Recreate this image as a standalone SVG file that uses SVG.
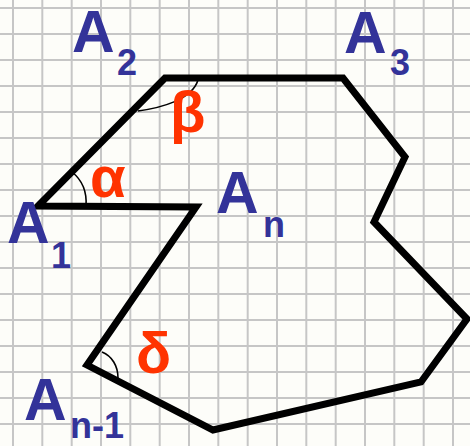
<svg xmlns="http://www.w3.org/2000/svg" width="470" height="446" viewBox="0 0 470 446">
<style>
.grid line{stroke:#c6c6c6;stroke-width:2}
.poly{fill:none;stroke:#000;stroke-width:7;stroke-linejoin:miter;stroke-miterlimit:4}
.arc{fill:none;stroke:#000;stroke-width:1.6}
.lbl{font-family:"Liberation Sans",Arial,sans-serif;font-weight:bold;fill:#333399}
.big{font-size:59px}
.sub{font-size:36px}
.ang{font-family:"Liberation Sans",Arial,sans-serif;font-weight:bold;fill:#ff3300;font-size:58px}
</style>
<rect width="470" height="446" fill="#fdfdf9"/>
<g class="grid">
<line x1="13" y1="0" x2="13" y2="446"/><line x1="42.3" y1="0" x2="42.3" y2="446"/><line x1="71.7" y1="0" x2="71.7" y2="446"/><line x1="101" y1="0" x2="101" y2="446"/><line x1="130.3" y1="0" x2="130.3" y2="446"/><line x1="159.7" y1="0" x2="159.7" y2="446"/><line x1="189" y1="0" x2="189" y2="446"/><line x1="218.3" y1="0" x2="218.3" y2="446"/><line x1="247.7" y1="0" x2="247.7" y2="446"/><line x1="277" y1="0" x2="277" y2="446"/><line x1="306.3" y1="0" x2="306.3" y2="446"/><line x1="335.7" y1="0" x2="335.7" y2="446"/><line x1="365" y1="0" x2="365" y2="446"/><line x1="394.3" y1="0" x2="394.3" y2="446"/><line x1="423.7" y1="0" x2="423.7" y2="446"/><line x1="453" y1="0" x2="453" y2="446"/>
<line x1="0" y1="8" x2="470" y2="8"/><line x1="0" y1="34" x2="470" y2="34"/><line x1="0" y1="60" x2="470" y2="60"/><line x1="0" y1="86" x2="470" y2="86"/><line x1="0" y1="112" x2="470" y2="112"/><line x1="0" y1="138" x2="470" y2="138"/><line x1="0" y1="164" x2="470" y2="164"/><line x1="0" y1="190" x2="470" y2="190"/><line x1="0" y1="216" x2="470" y2="216"/><line x1="0" y1="242" x2="470" y2="242"/><line x1="0" y1="268" x2="470" y2="268"/><line x1="0" y1="294" x2="470" y2="294"/><line x1="0" y1="320" x2="470" y2="320"/><line x1="0" y1="346" x2="470" y2="346"/><line x1="0" y1="372" x2="470" y2="372"/><line x1="0" y1="398" x2="470" y2="398"/><line x1="0" y1="424" x2="470" y2="424"/>
</g>
<g id="connectors">
<polygon class="poly" points="38,206 165,78 343,78 405,157 374,222 467,319 421,382 213,430 87,365 196,207"/>
<path class="arc" d="M72,172 C82,180 87,192 86,206"/>
<path class="arc" d="M138,111 C160,108 192,100 198,80"/>
<path class="arc" d="M102,352 C112,356 118,366 118,378"/>
</g>
<g id="A1"><text class="lbl big" x="7" y="243">A</text><text class="lbl sub" x="51" y="268">1</text></g>
<g id="A2"><text class="lbl big" x="72" y="52">A</text><text class="lbl sub" x="117" y="75">2</text></g>
<g id="A3"><text class="lbl big" x="344" y="53">A</text><text class="lbl sub" x="390" y="75">3</text></g>
<g id="An"><text class="lbl big" x="216" y="213">A</text><text class="lbl sub" x="263" y="237">n</text></g>
<g id="An-1"><text class="lbl big" x="24" y="420">A</text><text class="lbl sub" x="70" y="438">n-1</text></g>
<g id="alpha"><text class="ang" x="90" y="197">α</text></g>
<g id="beta"><text class="ang" x="170" y="132">β</text></g>
<g id="delta"><text class="ang" x="136" y="373">δ</text></g>
</svg>
